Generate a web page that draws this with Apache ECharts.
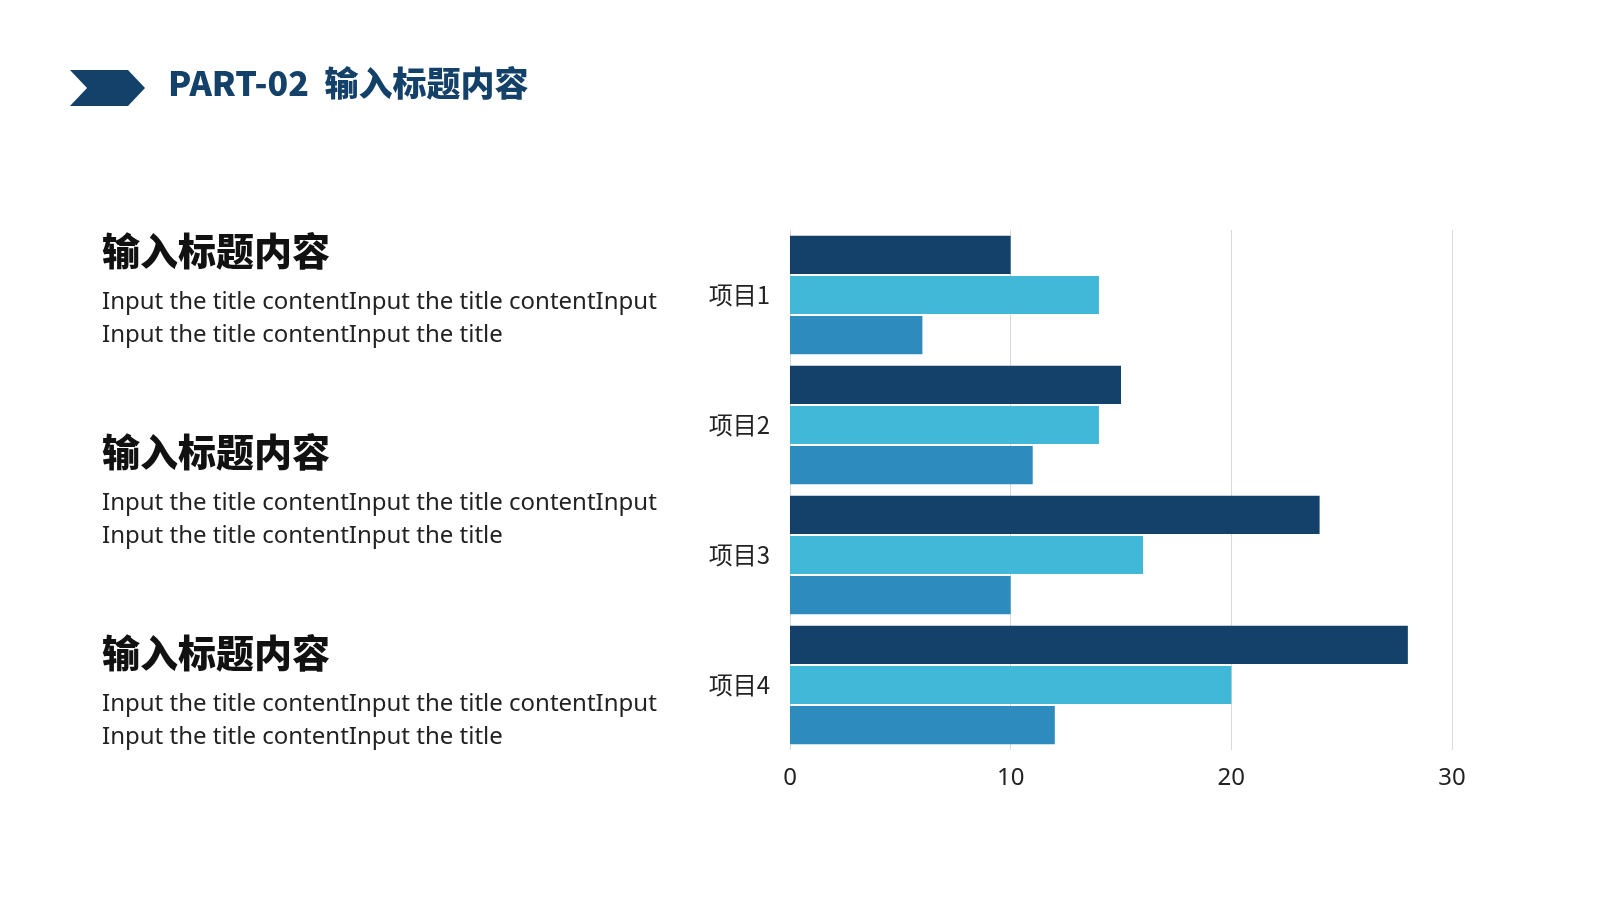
<!DOCTYPE html>
<html>
<head>
<meta charset="utf-8">
<script src="https://cdn.jsdelivr.net/npm/echarts@6/dist/echarts.min.js"></script>
<style>html,body{margin:0;padding:0;background:#fff}#main{width:1600px;height:900px}</style>
</head>
<body>
<div id="main"></div>
<script>
// 数据
const categories = ['项目1', '项目2', '项目3', '项目4'];
const series1 = [10, 15, 24, 28];
const series2 = [14, 14, 16, 20];
const series3 = [6, 11, 10, 12];
const xTicks = [0, 10, 20, 30];

const bodyText = 'Input the title contentInput the title contentInput\nInput the title contentInput the title';
const headText = '输入标题内容';

const chart = echarts.init(document.getElementById('main'));

let blocks = [];
[232, 433, 634].forEach(y => {
  blocks.push({
    type: 'text', left: 102, top: y,
    style: { text: headText, font: '900 38px "Noto Sans CJK SC"', fill: '#111' }
  });
  blocks.push({
    type: 'text', left: 102, top: y + 54,
    style: { text: bodyText, font: '24px "Noto Sans", "Noto Sans CJK SC"', fill: '#222', lineHeight: 33 }
  });
});

chart.setOption({
  backgroundColor: '#fff',
  graphic: [
    {
      type: 'polygon', shape: { points: [[70, 70], [128, 70], [145, 88], [128, 106], [70, 106], [87, 88]] },
      style: { fill: '#134169' }
    },
    {
      type: 'text', left: 168, top: 66,
      style: { text: 'PART-02  输入标题内容', font: '900 34px "Noto Sans CJK SC"', fill: '#134169' }
    }
  ].concat(blocks),
  grid: { left: 790, right: 148, top: 230, bottom: 150 },
  xAxis: {
    type: 'value', min: 0, max: 30, interval: 10,
    axisLine: { show: false }, axisTick: { show: false },
    axisLabel: { fontSize: 24, color: '#222', margin: 16, fontFamily: 'Noto Sans' },
    splitLine: { lineStyle: { color: '#d9d9d9' } }
  },
  yAxis: {
    type: 'category', data: categories, inverse: true,
    axisLine: { show: false }, axisTick: { show: false },
    axisLabel: { fontSize: 24, color: '#222', margin: 20, fontFamily: 'Noto Sans CJK SC' }
  },
  series: [
    { type: 'bar', data: series1, itemStyle: { color: '#134169' }, barGap: '5%', barCategoryGap: '9%' },
    { type: 'bar', data: series2, itemStyle: { color: '#41B8D7' } },
    { type: 'bar', data: series3, itemStyle: { color: '#2E8BBD' } }
  ]
});
</script>
</body>
</html>
